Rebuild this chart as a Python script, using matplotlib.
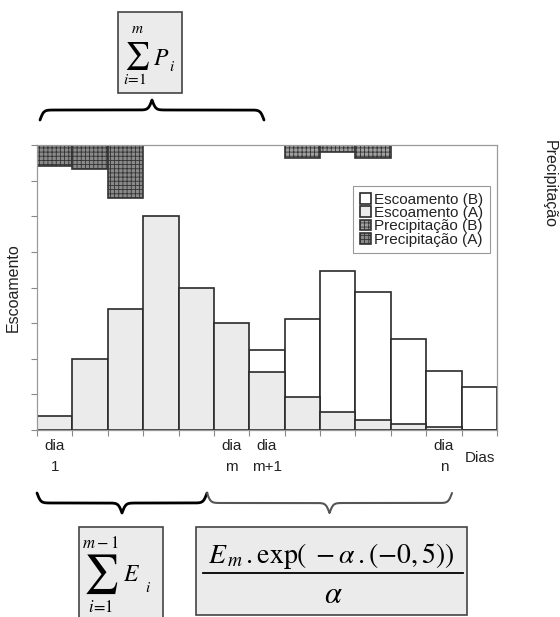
import numpy as np
import matplotlib
matplotlib.use('Agg')
import matplotlib.pyplot as plt
from matplotlib.patches import Rectangle

plt.rcParams['font.family'] = ['Liberation Sans', 'DejaVu Sans']
plt.rcParams['mathtext.fontset'] = 'stix'
plt.rcParams['hatch.linewidth'] = 0.6

# dados (unidades arbitrarias)
dias = np.arange(13)
escoamento_a = [0.4, 2.0, 3.4, 6.0, 4.0, 3.0, 1.63, 0.92, 0.5, 0.28, 0.17, 0.08, 0.0]
escoamento_b = [0.0, 0.0, 0.0, 0.0, 0.0, 0.0, 2.24, 3.11, 4.46, 3.87, 2.56, 1.67, 1.2]
precip_a = [0.6, 0.67, 1.48, 0, 0, 0, 0, 0, 0, 0, 0, 0, 0]
precip_b = [0, 0, 0, 0, 0, 0, 0, 0.36, 0.19, 0.36, 0, 0, 0]
dia_pos = [0.5, 5.5, 6.5, 11.5]
dia_lab = ['dia\n1', 'dia\nm', 'dia\nm+1', 'dia\nn']

W, H = 560, 617
fig = plt.figure(figsize=(W / 100, H / 100), dpi=100)
ax = fig.add_axes([37 / W, 1 - 430 / H, 460 / W, 285 / H])
ax2 = ax.twinx()

edge = '#2a2a2a'
b1 = ax.bar(dias, escoamento_b, width=1, align='edge', color='white',
            edgecolor=edge, linewidth=1.2, label='Escoamento (B)')
b2 = ax.bar(dias, escoamento_a, width=1, align='edge', color='#ebebeb',
            edgecolor=edge, linewidth=1.2, label='Escoamento (A)')
p2 = ax2.bar(dias, precip_b, width=1, align='edge', color='#a0a0a0',
             edgecolor='#333333', hatch='++++', linewidth=1.2, label='Precipitação (B)')
p1 = ax2.bar(dias, precip_a, width=1, align='edge', color='#8a8a8a',
             edgecolor='#333333', hatch='++++', linewidth=1.2, label='Precipitação (A)')

ax.set_xlim(0, 13)
ax.set_ylim(0, 8)
ax2.set_ylim(8, 0)
ax.set_yticks(np.arange(0, 9))
ax.set_yticklabels([])
ax2.set_yticks([])
ax.set_xticks(np.arange(0, 14))
ax.set_xticklabels([])
ax.set_xticks(dia_pos, minor=True)
ax.set_xticklabels(dia_lab, minor=True, fontsize=11, linespacing=1.6, color='#222222')
ax.tick_params(axis='x', which='minor', length=0, pad=6.5)
ax.tick_params(axis='both', which='major', length=4, color='#888888', direction='out')
for a in (ax, ax2):
    for s in a.spines.values():
        s.set_color('#999999')
ax.spines['bottom'].set_color('#777777')

ax.set_ylabel('Escoamento', fontsize=11.5, labelpad=4, color='#222222')
fig.text(549 / W, 1 - 184 / H, 'Precipitação', rotation=270, fontsize=11.5,
         ha='center', va='center', color='#222222')
fig.text(480 / W, 1 - 458 / H, 'Dias', fontsize=11, ha='center', va='center', color='#222222')

leg = ax2.legend(handles=[b1, b2, p2, p1], loc='upper right',
                 bbox_to_anchor=(490 / W, 1 - 186 / H), bbox_transform=fig.transFigure,
                 fontsize=11, handlelength=0.7, handleheight=0.7, handletextpad=0.2,
                 labelspacing=-0.05, borderpad=0.45, borderaxespad=0, fancybox=False,
                 framealpha=1, edgecolor='#999999')
leg.get_frame().set_linewidth(0.8)
for t in leg.get_texts():
    t.set_color('#222222')

# camada de desenho em pixels para chaves e formulas
ov = fig.add_axes([0, 0, 1, 1])
ov.set_xlim(0, W)
ov.set_ylim(H, 0)
ov.axis('off')


def chave(x0, x1, y, h, up, color='black', lw=2.0):
    n = 601
    x = np.linspace(x0, x1, n)
    half = x[:n // 2 + 1]
    beta = 0.55
    yh = 1 / (1 + np.exp(-beta * (half - half[0]))) + 1 / (1 + np.exp(-beta * (half - half[-1])))
    yy = np.concatenate((yh, yh[-2::-1]))
    sign = 1 if up else -1
    ov.plot(x, y - sign * (yy - 0.5) * h, color=color, lw=lw, solid_capstyle='round')


chave(40, 264, 120, 20, True)
chave(37, 207, 493, 20, False)
chave(207, 452, 493, 20, False, color='#555555', lw=1.5)

for x0, y0, w, h in [(118, 12, 64, 81), (79, 527, 84, 95), (196, 527, 271, 88)]:
    ov.add_patch(Rectangle((x0, y0), w, h, facecolor='#ebebeb', edgecolor='#444444', lw=1.2))

# caixa superior: soma de P
ov.text(137, 56, r'$\sum$', fontsize=20, ha='center', va='center')
ov.text(137, 29, r'$m$', fontsize=11, ha='center', va='center')
ov.text(135, 80, r'$i\!=\!1$', fontsize=11, ha='center', va='center')
ov.text(161, 59, r'$P$', fontsize=17, ha='center', va='center')
ov.text(172, 67, r'$i$', fontsize=11, ha='center', va='center')

# caixa inferior esquerda: soma de E
ov.text(101, 574, r'$\sum$', fontsize=28, ha='center', va='center')
ov.text(100, 543, r'$m-1$', fontsize=12, ha='center', va='center')
ov.text(101, 607, r'$i\!=\!1$', fontsize=12, ha='center', va='center')
ov.text(132, 575, r'$E$', fontsize=17, ha='center', va='center')
ov.text(148, 588, r'$i$', fontsize=11, ha='center', va='center')

# caixa inferior direita: fracao
ov.text(331, 556, r'$E_{\,m}\,.\mathrm{exp}(\;-\alpha\,.(-0,5))$', fontsize=20,
        ha='center', va='center')
ov.plot([203, 463], [573, 573], color='black', lw=1.3)
ov.text(333, 595, r'$\alpha$', fontsize=22, ha='center', va='center')

fig.savefig('out.png', dpi=100)
